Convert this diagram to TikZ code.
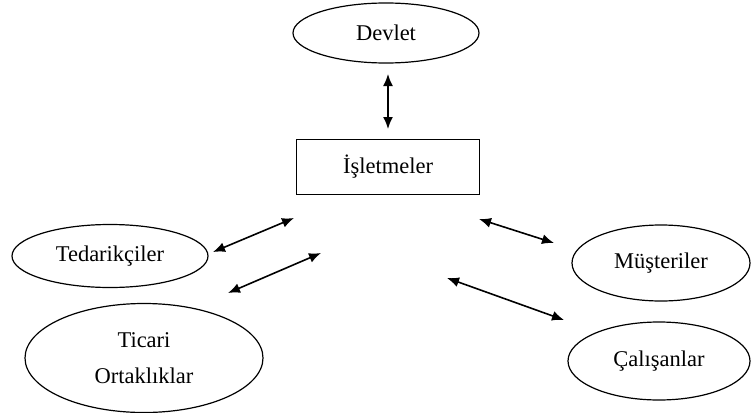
\documentclass[tikz,border=0pt]{standalone}
\usepackage{fontspec}
\setmainfont{Liberation Serif}
\usetikzlibrary{shapes.geometric,arrows.meta}
\begin{document}
\begin{tikzpicture}[x=1pt,y=-1pt,
  oval/.style={ellipse,draw,line width=1.2pt,inner sep=0pt,
    font=\fontsize{22.5}{33}\selectfont},
  box/.style={rectangle,draw,line width=1.2pt,inner sep=0pt,
    font=\fontsize{22.5}{33}\selectfont},
  link/.style={line width=1.6pt,{Latex[length=12pt,width=10pt]}-{Latex[length=12pt,width=10pt]}}]
\useasboundingbox (0,0) rectangle (751,412);
% stakeholders
\node[oval,minimum width=186pt,minimum height=60pt] (devlet) at (386,33) {Devlet};
\node[box,minimum width=183pt,minimum height=55pt] (isl) at (388,167) {İşletmeler};
\node[oval,minimum width=196pt,minimum height=63pt] (ted) at (110,256) {Tedarikçiler};
\node[oval,minimum width=238pt,minimum height=109pt,align=center] (tic) at (144,358) {Ticari\\[3pt]Ortaklıklar};
\node[oval,minimum width=178pt,minimum height=76pt] (mus) at (661,263) {Müşteriler};
\node[oval,minimum width=182pt,minimum height=78pt] (cal) at (659,361) {Çalışanlar};
% free arrow ends
\coordinate (d1) at (388,74);  \coordinate (d2) at (388,129);
\coordinate (t1) at (213,252); \coordinate (t2) at (294,218);
\coordinate (o1) at (228,293); \coordinate (o2) at (321,253);
\coordinate (m1) at (479,219); \coordinate (m2) at (554,243);
\coordinate (c1) at (447,278); \coordinate (c2) at (564,320);
% relations
\draw[link] (d1) -- (d2);
\draw[link] (t1) -- (t2);
\draw[link] (o1) -- (o2);
\draw[link] (m1) -- (m2);
\draw[link] (c1) -- (c2);
\end{tikzpicture}
\end{document}
